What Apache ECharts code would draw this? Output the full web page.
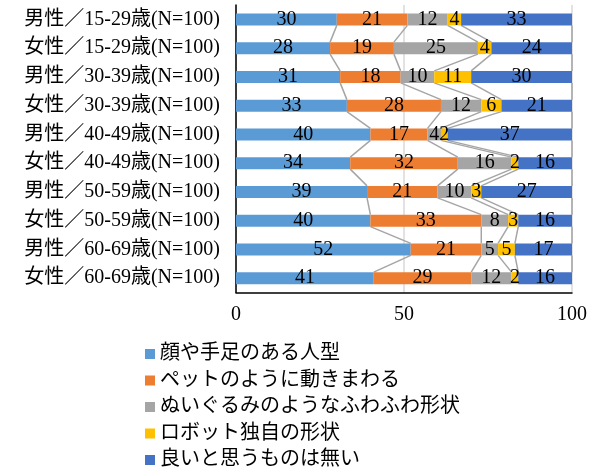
<!DOCTYPE html>
<html><head><meta charset="utf-8">
<script src="https://cdn.jsdelivr.net/npm/echarts@6/dist/echarts.min.js"></script>
<style>html,body{margin:0;padding:0;background:#fff}#c{width:590px;height:470px}</style>
</head><body><div id="c"></div>
<script>
var categories = ["男性／15-29歳(N=100)","女性／15-29歳(N=100)","男性／30-39歳(N=100)","女性／30-39歳(N=100)","男性／40-49歳(N=100)","女性／40-49歳(N=100)","男性／50-59歳(N=100)","女性／50-59歳(N=100)","男性／60-69歳(N=100)","女性／60-69歳(N=100)"];
var seriesNames = ["顔や手足のある人型","ペットのように動きまわる","ぬいぐるみのようなふわふわ形状","ロボット独自の形状","良いと思うものは無い"];
var humanoid = [30,28,31,33,40,34,39,40,52,41];
var pet = [21,19,18,28,17,32,21,33,21,29];
var plush = [12,25,10,12,4,16,10,8,5,12];
var robot = [4,4,11,6,2,2,3,3,5,2];
var none = [33,24,30,21,37,16,27,16,17,16];
var xTicks = [0,50,100];
var colors = ["#5b9bd5","#ed7d31","#a5a5a5","#ffc000","#4472c4"];

var all = [humanoid,pet,plush,robot,none];
var font = "'Liberation Serif','Noto Sans CJK JP',serif";
var cum = all.map(function(_,k){return categories.map(function(_,i){var s=0;for(var j=0;j<=k;j++)s+=all[j][i];return s;});});
var lineData=[];
for(var k=0;k<all.length;k++){for(var i=0;i<categories.length-1;i++){lineData.push([i,k]);}}

var series = all.map(function(arr,k){
  return {name:seriesNames[k],type:'bar',stack:'t',data:arr,barWidth:12,
    itemStyle:{color:colors[k]},
    label:{show:true,position:'inside',color:'#000',fontSize:20,fontFamily:font},
    emphasis:{disabled:true}};
});
series.push({type:'custom',name:'sl',silent:true,z:1,
  renderItem:function(params,api){
    var i=api.value(0),k=api.value(1);
    var p1=api.coord([cum[k][i],i]);var p2=api.coord([cum[k][i+1],i+1]);
    return {type:'line',shape:{x1:p1[0],y1:p1[1]+6,x2:p2[0],y2:p2[1]-6},style:{stroke:'#a5a5a5',lineWidth:1.5}};
  },
  encode:{x:-1,y:-1},
  data:lineData});

var chart = echarts.init(document.getElementById('c'),null,{renderer:'canvas'});
chart.setOption({
  animation:false,
  grid:{left:236,right:13.5,top:5,bottom:177.5,containLabel:false},
  xAxis:{type:'value',min:0,max:100,interval:50,
    axisLine:{show:true,lineStyle:{color:'#000',width:1.5}},axisTick:{show:false},
    splitLine:{show:true,lineStyle:{color:'#d9d9d9',width:1.5}},
    axisLabel:{color:'#000',fontSize:20,fontFamily:font,margin:12,
      formatter:function(v){return xTicks.indexOf(v)>=0?String(v):'';}}},
  yAxis:{type:'category',data:categories,inverse:true,
    axisLine:{show:true,lineStyle:{color:'#000',width:1.5}},axisTick:{show:false},
    axisLabel:{color:'#000',fontSize:20,fontFamily:font,margin:16}},
  legend:{orient:'vertical',left:145,top:344,height:140,width:440,itemWidth:10,itemHeight:10,itemGap:6.5,icon:'rect',padding:0,
    data:seriesNames,textStyle:{color:'#000',fontSize:20,fontFamily:font},selectedMode:false},
  series:series
});
</script></body></html>
